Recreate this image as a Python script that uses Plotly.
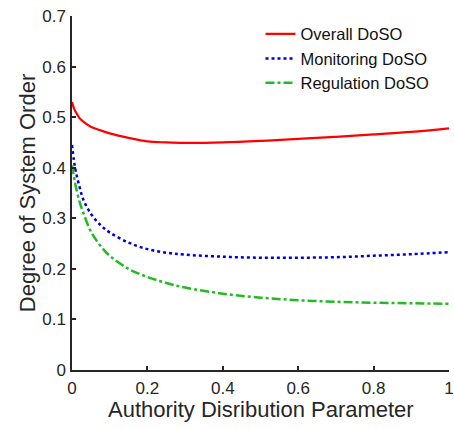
import plotly.graph_objects as go

x_vals = [0, 0.005, 0.01, 0.02, 0.03, 0.05, 0.075, 0.1, 0.15, 0.2, 0.25, 0.3,
          0.4, 0.5, 0.6, 0.7, 0.8, 0.9, 1.0]
overall = [0.530, 0.518, 0.510, 0.498, 0.491, 0.481, 0.474, 0.468, 0.459, 0.452,
           0.450, 0.449, 0.450, 0.453, 0.457, 0.461, 0.466, 0.471, 0.478]
monitoring = [0.445, 0.415, 0.393, 0.362, 0.337, 0.309, 0.287, 0.272, 0.252, 0.239,
              0.232, 0.228, 0.224, 0.222, 0.222, 0.223, 0.226, 0.229, 0.233]
regulation = [0.405, 0.383, 0.363, 0.333, 0.311, 0.274, 0.246, 0.226, 0.200, 0.184,
              0.172, 0.163, 0.151, 0.143, 0.138, 0.135, 0.133, 0.132, 0.131]

x_ticks = [0, 0.2, 0.4, 0.6, 0.8, 1]
x_tick_text = ["0", "0.2", "0.4", "0.6", "0.8", "1"]
y_ticks = [0, 0.1, 0.2, 0.3, 0.4, 0.5, 0.6, 0.7]
y_tick_text = ["0", "0.1", "0.2", "0.3", "0.4", "0.5", "0.6", "0.7"]
x_title = "Authority Disribution Parameter"
y_title = "Degree of System Order"

FONT = "Liberation Sans, Arial, sans-serif"
AX = "#262626"

fig = go.Figure()
fig.add_trace(go.Scatter(x=x_vals, y=overall, mode="lines", name="Overall DoSO",
                         line=dict(color="#ff0000", width=2.2, shape="spline")))
fig.add_trace(go.Scatter(x=x_vals, y=monitoring, mode="lines", name="Monitoring DoSO",
                         line=dict(color="#0000dd", width=2.5, dash="dot", shape="spline")))
fig.add_trace(go.Scatter(x=x_vals, y=regulation, mode="lines", name="Regulation DoSO",
                         line=dict(color="#22bb22", width=2.5, dash="dashdot", shape="spline")))

fig.update_layout(
    width=454, height=429,
    margin=dict(l=72, r=5, t=16, b=59, autoexpand=False),
    paper_bgcolor="white", plot_bgcolor="white",
    font=dict(family=FONT, size=17, color=AX),
    showlegend=True,
    legend=dict(x=0.50, y=0.998, xanchor="left", yanchor="top",
                bgcolor="rgba(0,0,0,0)", font=dict(size=16.5, color="#111111"),
                tracegroupgap=0, itemwidth=30),
    xaxis=dict(range=[0, 1], tickvals=x_ticks, ticktext=x_tick_text, automargin=False,
               showline=True, linecolor=AX, linewidth=1.5, ticks="inside",
               ticklen=4, tickcolor=AX, tickwidth=1.5, showgrid=False, zeroline=False,
               ticklabelstandoff=2, ticklabeloverflow="allow"),
    yaxis=dict(range=[0, 0.7], tickvals=y_ticks, ticktext=y_tick_text, automargin=False,
               showline=True, linecolor=AX, linewidth=1.5, ticks="inside",
               ticklen=4, tickcolor=AX, tickwidth=1.5, showgrid=False, zeroline=False,
               ticklabelstandoff=1, ticklabeloverflow="allow",
               title=dict(text=y_title, font=dict(size=22, color=AX), standoff=1)),
    annotations=[dict(text=x_title, xref="paper", yref="paper", x=0.5, y=-0.072,
                      xanchor="center", yanchor="top", showarrow=False,
                      font=dict(size=22, color=AX))],
)

fig.write_html("out.html", config={"displayModeBar": False},
               post_script="document.body.style.margin='0px';")
